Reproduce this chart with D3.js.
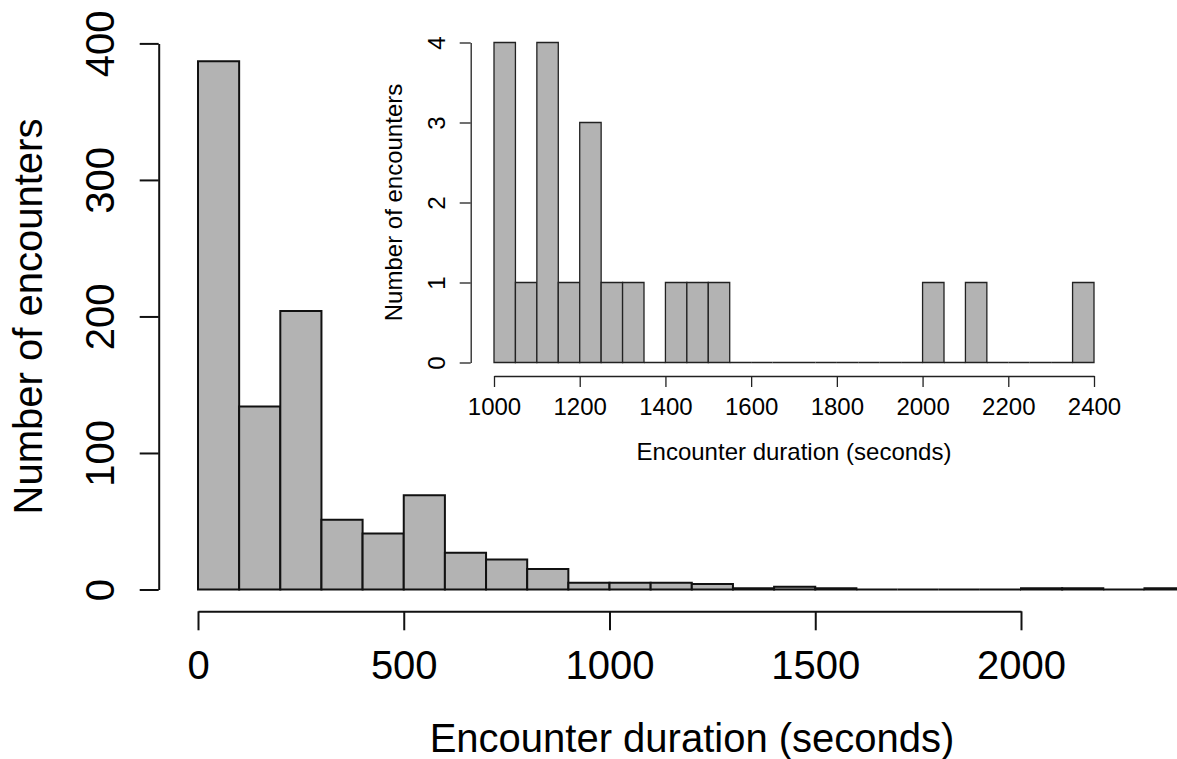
<!DOCTYPE html>
<html>
<head>
<meta charset="utf-8">
<script src="https://cdn.jsdelivr.net/npm/d3@7"></script>
<style>
  html, body { margin: 0; padding: 0; background: #ffffff; }
  svg { display: block; }
  text { font-family: "Liberation Sans", Arial, Helvetica, sans-serif; fill: #000; }
</style>
</head>
<body>
<svg id="chart" width="1177" height="759"></svg>
<script>
// ---------------- data ----------------
// Main histogram: 100-second bins starting at 0
const mainBinStart = 0;
const mainBinWidth = 100;
const mainCounts = [387, 134, 204, 51, 41, 69, 27, 22, 15, 5, 5, 5, 4, 1, 2, 1, 0, 0, 0, 0, 1, 1, 0, 1];
const mainXTicks = [0, 500, 1000, 1500, 2000];
const mainYTicks = [0, 100, 200, 300, 400];

// Inset histogram: 50-second bins starting at 1000
const insetBinStart = 1000;
const insetBinWidth = 50;
const insetCounts = [4, 1, 4, 1, 3, 1, 1, 0, 1, 1, 1, 0, 0, 0, 0, 0, 0, 0, 0, 0, 1, 0, 1, 0, 0, 0, 0, 1];
const insetXTicks = [1000, 1200, 1400, 1600, 1800, 2000, 2200, 2400];
const insetYTicks = [0, 1, 2, 3, 4];

const xLabel = "Encounter duration (seconds)";
const yLabel = "Number of encounters";

// ---------------- drawing ----------------
const svg = d3.select("#chart");
svg.append("rect").attr("width", 1177).attr("height", 759).attr("fill", "#fff");

function drawHist(cfg) {
  const g = svg.append("g");
  const x = d3.scaleLinear().domain(cfg.xDomain).range(cfg.xRange);
  const y = d3.scaleLinear().domain(cfg.yDomain).range(cfg.yRange);

  const bins = cfg.counts.map((c, i) => ({
    x0: cfg.binStart + i * cfg.binWidth,
    x1: cfg.binStart + (i + 1) * cfg.binWidth,
    c: c
  }));

  g.append("g").selectAll("path").data(bins).join("path")
    .attr("d", d => {
      const p = d3.path();
      p.moveTo(x(d.x0), y(0));
      p.lineTo(x(d.x0), y(d.c));
      p.lineTo(x(d.x1), y(d.c));
      p.lineTo(x(d.x1), y(0));
      p.closePath();
      return p.toString();
    })
    .attr("fill", "#b3b3b3")
    .attr("stroke", cfg.stroke)
    .attr("stroke-width", cfg.lw)
    .attr("stroke-linejoin", "miter");

  // y axis
  const yAxis = d3.axisLeft(y).tickValues(cfg.yTicks).tickSize(cfg.tick).tickSizeOuter(0).tickFormat(d3.format("d"));
  const ya = g.append("g").attr("transform", `translate(${cfg.yAxisX},0)`).call(yAxis);
  ya.select(".domain").attr("stroke", cfg.stroke).attr("stroke-width", cfg.lw);
  ya.selectAll(".tick line").attr("stroke", cfg.stroke).attr("stroke-width", cfg.lw);
  ya.selectAll(".tick text")
    .attr("x", null).attr("dy", null)
    .attr("transform", `translate(${-cfg.yLabDist},0) rotate(-90)`)
    .attr("text-anchor", "middle")
    .attr("font-size", cfg.fs)
    .style("font-family", '"Liberation Sans", Arial, Helvetica, sans-serif')
    .attr("fill", "#000");

  // x axis
  const xAxis = d3.axisBottom(x).tickValues(cfg.xTicks).tickSize(cfg.tick).tickSizeOuter(0).tickFormat(d3.format("d"));
  const xa = g.append("g").attr("transform", `translate(0,${cfg.xAxisY})`).call(xAxis);
  xa.select(".domain").attr("stroke", cfg.stroke).attr("stroke-width", cfg.lw);
  xa.selectAll(".tick line").attr("stroke", cfg.stroke).attr("stroke-width", cfg.lw);
  xa.selectAll(".tick text")
    .attr("y", cfg.xLabDist).attr("dy", null)
    .attr("text-anchor", "middle")
    .attr("font-size", cfg.fs)
    .style("font-family", '"Liberation Sans", Arial, Helvetica, sans-serif')
    .attr("fill", "#000");

  // axis titles
  g.append("text")
    .attr("transform", `translate(${cfg.yTitleX},${cfg.yTitleY}) rotate(-90)`)
    .attr("text-anchor", "middle")
    .attr("font-size", cfg.fs)
    .text(yLabel);
  g.append("text")
    .attr("x", cfg.xTitleX).attr("y", cfg.xTitleY)
    .attr("text-anchor", "middle")
    .attr("font-size", cfg.fs)
    .text(xLabel);
}

// main histogram
drawHist({
  counts: mainCounts, binStart: mainBinStart, binWidth: mainBinWidth,
  xDomain: [0, 2000], xRange: [198, 1021],
  yDomain: [0, 400], yRange: [589.5, 43.4],
  xTicks: mainXTicks, yTicks: mainYTicks,
  yAxisX: 158.7, xAxisY: 611.3, tick: 19,
  yLabDist: 44.7, xLabDist: 68,
  yTitleX: 42, yTitleY: 316.5,
  xTitleX: 692, xTitleY: 752,
  fs: 40, lw: 2, stroke: "#111"
});

// inset histogram
drawHist({
  counts: insetCounts, binStart: insetBinStart, binWidth: insetBinWidth,
  xDomain: [1000, 2400], xRange: [494, 1094],
  yDomain: [0, 4], yRange: [362.5, 42.5],
  xTicks: insetXTicks, yTicks: insetYTicks,
  yAxisX: 470.7, xAxisY: 376, tick: 11,
  yLabDist: 26, xLabDist: 39,
  yTitleX: 402, yTitleY: 202.5,
  xTitleX: 794, xTitleY: 460,
  fs: 24, lw: 1.3, stroke: "#222"
});
</script>
</body>
</html>
